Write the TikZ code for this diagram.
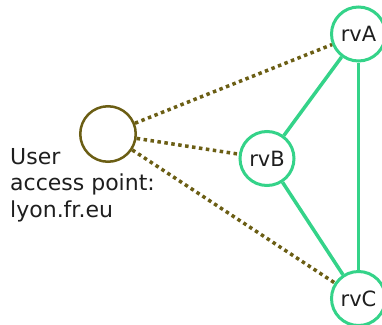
\documentclass[tikz,border=0pt]{standalone}
\usepackage{fontspec}
\setmainfont{DejaVu Sans}
\usetikzlibrary{positioning}
\definecolor{olive}{RGB}{107,94,20}
\definecolor{mint}{RGB}{52,211,137}
\definecolor{ink}{RGB}{30,30,30}

\begin{document}
\begin{tikzpicture}[x=1pt, y=-1pt,
    access/.style={draw=olive, line width=2.5pt, circle, minimum size=55.5pt, inner sep=0pt},
    rv/.style={draw=mint, line width=3pt, circle, fill=white, minimum size=54pt, inner sep=0pt, text=ink, font=\fontsize{21}{25}\selectfont},
    reach/.style={draw=olive, line width=3.5pt, dash pattern=on 3.5pt off 3.5pt},
    link/.style={draw=mint, line width=3.5pt}]
    \useasboundingbox (0, 0) rectangle (382, 324);

    \node[access] (user) at (108, 134) {};
    \node[anchor=west, align=left, inner sep=0pt, text=ink, font=\fontsize{22}{26.5}\selectfont] (userlabel) at (10, 185) {User\\access point:\\lyon.fr.eu};

    \node[rv] (rvA) at (358.5, 34) {rvA};
    \node[rv] (rvB) at (267, 158.5) {rvB};
    \node[rv] (rvC) at (358.5, 298.5) {rvC};

    \draw[reach] (user) -- (rvA);
    \draw[reach] (user) -- (rvB);
    \draw[reach] (user) -- (rvC);

    \draw[link] (rvA) -- (rvB);
    \draw[link] (rvA) -- (rvC);
    \draw[link] (rvB) -- (rvC);
\end{tikzpicture}
\end{document}
